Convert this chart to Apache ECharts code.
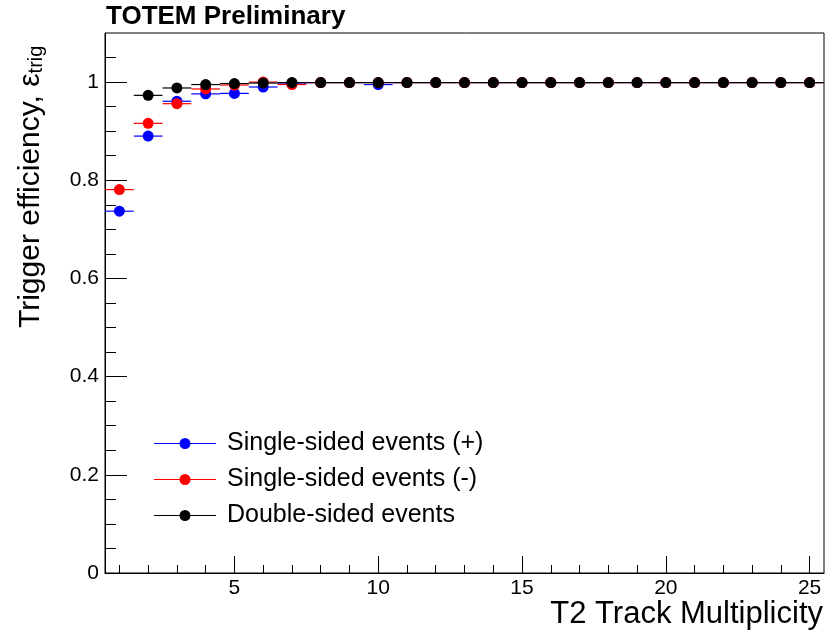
<!DOCTYPE html>
<html>
<head>
<meta charset="utf-8">
<title>TOTEM trigger efficiency</title>
<script src="https://cdn.jsdelivr.net/npm/echarts@6/dist/echarts.min.js"></script>
<style>
  html, body { margin: 0; padding: 0; background: #ffffff; }
  #chart { width: 828px; height: 636px; }
</style>
</head>
<body>
<div id="chart"></div>
<script>
// T2 track multiplicity bins
const multiplicity = [1, 2, 3, 4, 5, 6, 7, 8, 9, 10, 11, 12, 13, 14, 15, 16, 17, 18, 19, 20, 21, 22, 23, 24, 25];

// Trigger efficiency per multiplicity bin
const singlePlus  = [0.737, 0.890, 0.961, 0.976, 0.977, 0.990, 0.998, 0.999, 0.999, 0.995, 0.999, 0.999, 0.999, 0.999, 0.999, 0.999, 0.999, 0.999, 0.999, 0.999, 0.999, 0.999, 0.999, 0.999, 0.999];
const singleMinus = [0.781, 0.916, 0.956, 0.986, 0.994, 1.000, 0.995, 0.999, 0.999, 0.999, 0.999, 0.999, 0.999, 0.999, 0.999, 0.999, 0.999, 0.999, 0.999, 0.999, 0.999, 0.999, 0.999, 0.999, 0.999];
const doubleSided = [null,  0.973, 0.988, 0.995, 0.997, 0.998, 0.999, 0.999, 0.999, 0.999, 0.999, 0.999, 0.999, 0.999, 0.999, 0.999, 0.999, 0.999, 0.999, 0.999, 0.999, 0.999, 0.999, 0.999, 0.999];

const seriesNames = ['Single-sided events (+)', 'Single-sided events (-)', 'Double-sided events'];

// Axis tick labels
const xTickLabels = [5, 10, 15, 20, 25];
const yTickLabels = [0, 0.2, 0.4, 0.6, 0.8, 1];

const BIN_HALF_WIDTH = 0.5;
const colors = ['#0000ff', '#ff0000', '#000000'];

// minor tick positions between the labelled ones
const xMinorTicks = [];
for (let i = 1; i <= 25; i++) if (i % 5 !== 0) xMinorTicks.push(i);
const yMinorTicks = [];
for (let i = 1; i <= 21; i++) if (i % 4 !== 0) yMinorTicks.push(+(i * 0.05).toFixed(2));

function toPoints(values) {
  const pts = [];
  values.forEach((v, i) => { if (v !== null) pts.push([multiplicity[i], v]); });
  return pts;
}

// marker with horizontal bin-width error bar
function makeRenderer(color) {
  return function (params, api) {
    const x = api.value(0), y = api.value(1);
    const c = api.coord([x, y]);
    const l = api.coord([x - BIN_HALF_WIDTH, y]);
    const r = api.coord([x + BIN_HALF_WIDTH, y]);
    return {
      type: 'group',
      children: [
        { type: 'line', shape: { x1: l[0], y1: c[1], x2: r[0], y2: c[1] },
          style: { stroke: color, lineWidth: 1.2 } },
        { type: 'circle', shape: { cx: c[0], cy: c[1], r: 5.5 },
          style: { fill: color } }
      ]
    };
  };
}

const legendIcon = 'path://M0,5.4 L62,5.4 L62,6.6 L0,6.6 Z M25.5,6 A5.5,5.5 0 1 1 36.5,6 A5.5,5.5 0 1 1 25.5,6 Z';

const allValues = [singlePlus, singleMinus, doubleSided];
const series = allValues.map((vals, k) => ({
  name: seriesNames[k],
  type: 'custom',
  xAxisIndex: 0,
  yAxisIndex: 0,
  color: colors[k],
  itemStyle: { color: colors[k] },
  renderItem: makeRenderer(colors[k]),
  data: toPoints(vals),
  z: 10 + k
}));

const font = 'Liberation Sans, Arial, Helvetica, sans-serif';
const tickLine = { lineStyle: { color: '#000', width: 1 } };

const chart = echarts.init(document.getElementById('chart'), null, { renderer: 'canvas' });
chart.setOption({
  backgroundColor: '#ffffff',
  animation: false,
  textStyle: { fontFamily: font },
  grid: {
    left: 105, right: 4, top: 33, bottom: 63,
    show: true, borderColor: '#000', borderWidth: 1, backgroundColor: 'transparent'
  },
  xAxis: [
    {
      type: 'value', min: 0.5, max: 25.5, position: 'bottom',
      axisLine: { show: true, onZero: false, lineStyle: { color: '#000', width: 1 } },
      axisTick: { show: true, inside: true, length: 17, customValues: xTickLabels, ...tickLine },
      axisLabel: { show: true, customValues: xTickLabels, color: '#000', fontSize: 21, margin: 5, fontFamily: font },
      splitLine: { show: false }
    },
    {
      type: 'value', min: 0.5, max: 25.5, position: 'bottom',
      axisLine: { show: false, onZero: false },
      axisTick: { show: true, inside: true, length: 8, customValues: xMinorTicks, ...tickLine },
      axisLabel: { show: false },
      splitLine: { show: false }
    }
  ],
  yAxis: [
    {
      type: 'value', min: 0, max: 1.1, position: 'left',
      axisLine: { show: true, onZero: false, lineStyle: { color: '#000', width: 1 } },
      axisTick: { show: true, inside: true, length: 22, customValues: yTickLabels, ...tickLine },
      axisLabel: { show: true, customValues: yTickLabels, color: '#000', fontSize: 21, margin: 6, fontFamily: font,
                   formatter: v => String(v) },
      splitLine: { show: false }
    },
    {
      type: 'value', min: 0, max: 1.1, position: 'left',
      axisLine: { show: false, onZero: false },
      axisTick: { show: true, inside: true, length: 11, customValues: yMinorTicks, ...tickLine },
      axisLabel: { show: false },
      splitLine: { show: false }
    }
  ],
  legend: {
    orient: 'vertical',
    left: 154,
    top: 431,
    padding: 0,
    itemWidth: 62,
    itemHeight: 12,
    itemGap: 11,
    selectedMode: false,
    data: seriesNames.map(n => ({ name: n, icon: legendIcon })),
    textStyle: { color: '#000', fontSize: 25, lineHeight: 24, fontFamily: font, padding: [0, 0, 0, 6] }
  },
  graphic: [
    {
      type: 'text', left: 106, top: 4,
      style: { text: 'TOTEM Preliminary', fill: '#000', font: 'bold 26px ' + font }
    },
    {
      type: 'text', x: 823, y: 614,
      style: { text: 'T2 Track Multiplicity', fill: '#000', font: '31px ' + font,
               textAlign: 'right', textVerticalAlign: 'middle' }
    },
    {
      type: 'text', x: 31, y: 328, rotation: Math.PI / 2,
      style: {
        text: '{m|Trigger efficiency, ε}{s|trig}',
        fill: '#000',
        textAlign: 'left', textVerticalAlign: 'middle',
        rich: {
          m: { fontSize: 30, fontFamily: font, lineHeight: 30, verticalAlign: 'bottom', fill: '#000' },
          s: { fontSize: 20, fontFamily: font, lineHeight: 14, verticalAlign: 'bottom', fill: '#000' }
        }
      }
    }
  ],
  series: series
});
</script>
</body>
</html>
